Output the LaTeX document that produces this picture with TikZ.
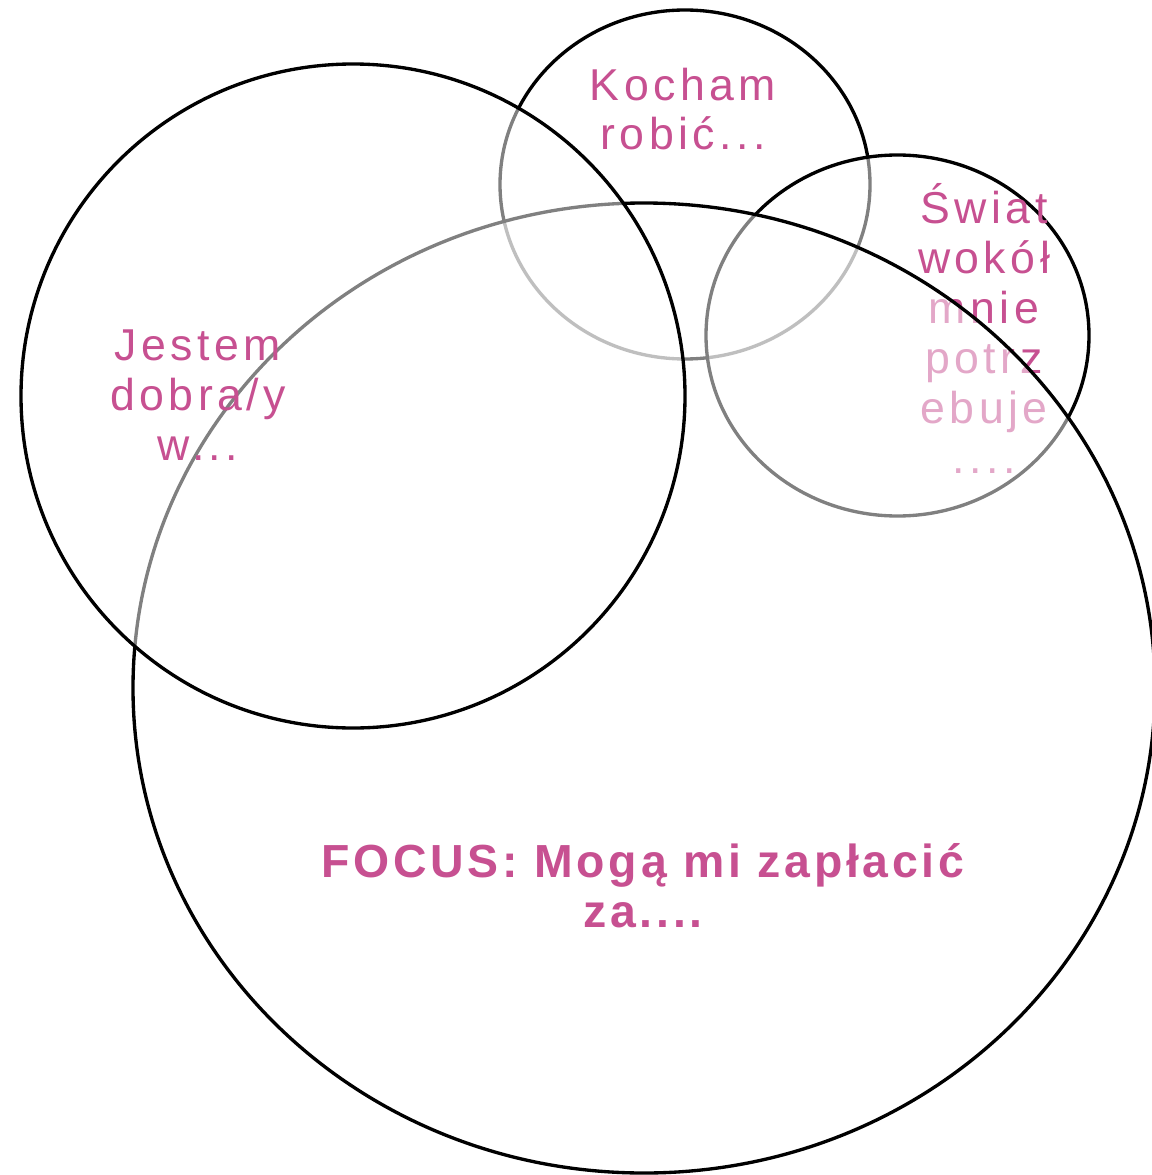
\documentclass[tikz,border=0pt]{standalone}
\usepackage{fontspec}
\setmainfont{Liberation Sans}
\usepackage{tikz}
\definecolor{ikipink}{RGB}{199,80,145}

\tikzset{
  veil/.style={draw=black, line width=0.95pt, fill=white, fill opacity=0.5},
  circtext/.style={text=ikipink, align=center, anchor=base, inner sep=0pt,
    font=\fontsize{12.7}{14.2}\selectfont\addfontfeature{LetterSpace=10}}
}

\begin{document}
\begin{tikzpicture}
  \clip (0,0) rectangle (11.52,-11.75);
  % Top: love to do
  \draw[veil] (6.85,-1.845) ellipse (1.85cm and 1.745cm);
  \node[circtext] (love) at (6.83,-1.50) {Kocham\\robić...};
  % Right: the world needs
  \draw[veil] (8.975,-3.355) ellipse (1.915cm and 1.805cm);
  \node[circtext] (world) at (9.84,-4.73) {Świat\\wokół\\mnie\\potrz\\ebuje\\....};
  % Big one: paid for
  \draw[veil] (6.44,-6.88) ellipse (5.11cm and 4.85cm);
  \node[circtext, font=\fontsize{13.2}{14.2}\selectfont\bfseries\addfontfeature{LetterSpace=8}]
    (paid) at (6.43,-9.27) {FOCUS: Mogą mi zapłacić\\za....};
  % Left: good at
  \draw[veil] (3.53,-3.96) circle (3.32cm);
  \node[circtext] (good) at (1.98,-4.60) {Jestem\\dobra/y\\w...};
\end{tikzpicture}
\end{document}
